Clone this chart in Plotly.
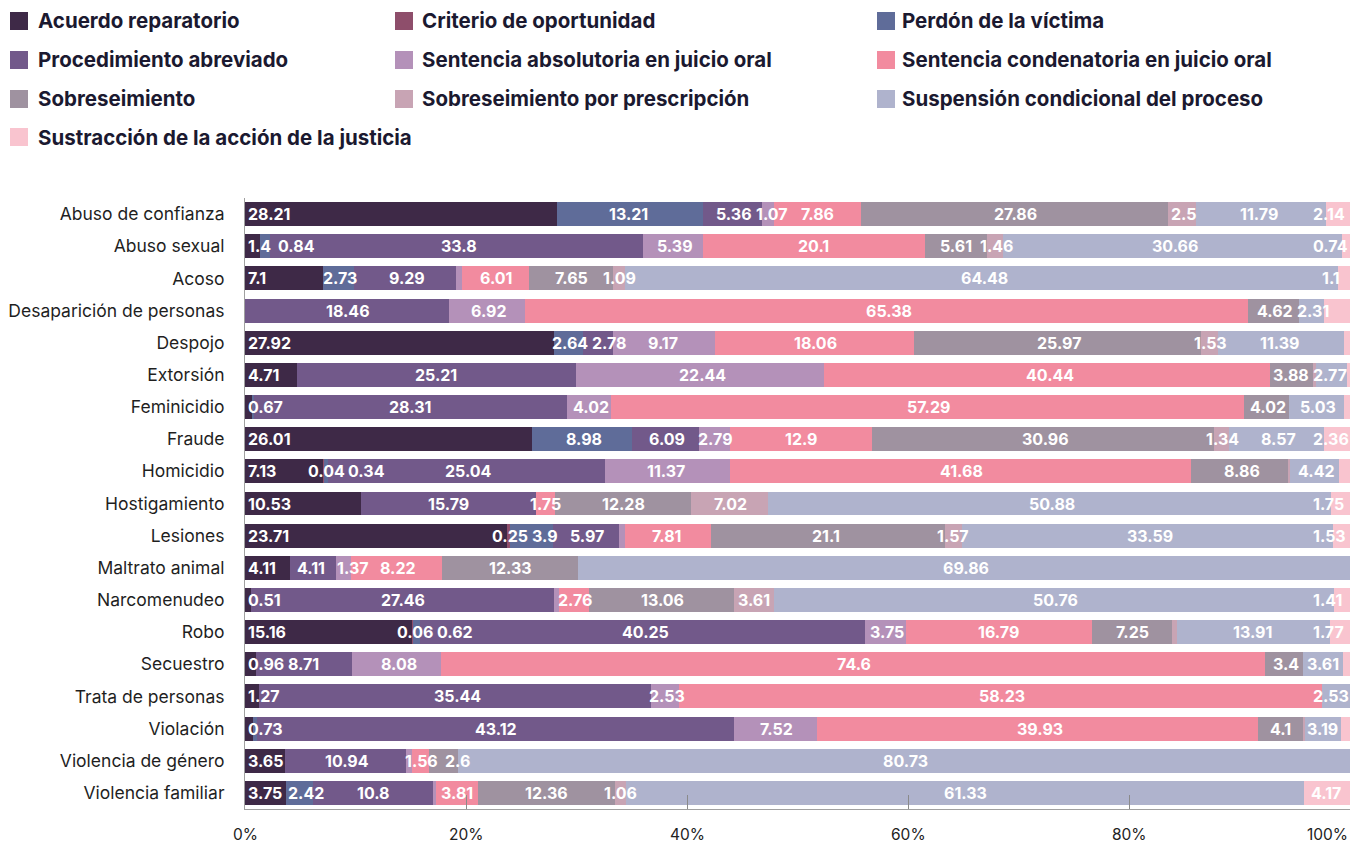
import plotly.graph_objects as go

# Crime types (rows, top to bottom)
crimes = [
    "Abuso de confianza", "Abuso sexual", "Acoso", "Desaparición de personas",
    "Despojo", "Extorsión", "Feminicidio", "Fraude", "Homicidio", "Hostigamiento",
    "Lesiones", "Maltrato animal", "Narcomenudeo", "Robo", "Secuestro",
    "Trata de personas", "Violación", "Violencia de género", "Violencia familiar",
]

# Case outcomes (stack order, left to right)
outcomes = [
    "Acuerdo reparatorio", "Criterio de oportunidad", "Perdón de la víctima",
    "Procedimiento abreviado", "Sentencia absolutoria en juicio oral",
    "Sentencia condenatoria en juicio oral", "Sobreseimiento",
    "Sobreseimiento por prescripción", "Suspensión condicional del proceso",
    "Sustracción de la acción de la justicia",
]

# Share of cases (%) per outcome, one value per crime type
acuerdo_reparatorio = [28.21, 1.4, 7.1, 0, 27.92, 4.71, 0.67, 26.01, 7.13, 10.53,
                       23.71, 4.11, 0.51, 15.16, 0.96, 1.27, 0.73, 3.65, 3.75]
criterio_oportunidad = [0, 0, 0, 0, 0, 0, 0, 0, 0.04, 0,
                        0.25, 0, 0, 0.06, 0, 0, 0, 0, 0]
perdon_victima = [13.21, 0.84, 2.73, 0, 2.64, 0, 0.13, 8.98, 0.34, 0,
                  3.9, 0, 0, 0.62, 0, 0, 0.4, 0, 2.42]
procedimiento_abreviado = [5.36, 33.8, 9.29, 18.46, 2.78, 25.21, 28.31, 6.09, 25.04, 15.79,
                           5.97, 4.11, 27.46, 40.25, 8.71, 35.44, 43.12, 10.94, 10.8]
sentencia_absolutoria = [1.07, 5.39, 0.55, 6.92, 9.17, 22.44, 4.02, 2.79, 11.37, 0,
                         0.57, 1.37, 0.43, 3.75, 8.08, 2.53, 7.52, 0.52, 0.3]
sentencia_condenatoria = [7.86, 20.1, 6.01, 65.38, 18.06, 40.44, 57.29, 12.9, 41.68, 1.75,
                          7.81, 8.22, 2.76, 16.79, 74.6, 58.23, 39.93, 1.56, 3.81]
sobreseimiento = [27.86, 5.61, 7.65, 4.62, 25.97, 3.88, 4.02, 30.96, 8.86, 12.28,
                  21.1, 12.33, 13.06, 7.25, 3.4, 0, 4.1, 2.6, 12.36]
sobreseimiento_prescripcion = [2.5, 1.46, 1.09, 0, 1.53, 0.28, 0, 1.34, 0.1, 7.02,
                               1.57, 0, 3.61, 0.44, 0, 0, 0.15, 0, 1.06]
suspension_condicional = [11.79, 30.66, 64.48, 2.31, 11.39, 2.77, 5.03, 8.57, 4.42, 50.88,
                          33.59, 69.86, 50.76, 13.91, 3.61, 2.53, 3.19, 80.73, 61.33]
sustraccion_justicia = [2.14, 0.74, 1.1, 2.31, 0.54, 0.27, 0.53, 2.36, 1.02, 1.75,
                        1.53, 0, 1.41, 1.77, 0.64, 0, 0.86, 0, 4.17]

series = [
    acuerdo_reparatorio, criterio_oportunidad, perdon_victima, procedimiento_abreviado,
    sentencia_absolutoria, sentencia_condenatoria, sobreseimiento,
    sobreseimiento_prescripcion, suspension_condicional, sustraccion_justicia,
]

# Thin segments printed without a value label
unlabeled = {
    "Acoso": [4],
    "Desaparición de personas": [9],
    "Despojo": [9],
    "Extorsión": [7, 9],
    "Feminicidio": [2, 9],
    "Homicidio": [7, 9],
    "Lesiones": [4],
    "Narcomenudeo": [4],
    "Robo": [7],
    "Secuestro": [9],
    "Violación": [2, 7, 9],
    "Violencia de género": [4],
    "Violencia familiar": [4],
}

x_ticks = [0, 20, 40, 60, 80, 100]
x_tick_text = ["0%", "20%", "40%", "60%", "80%", "100%"]

colors = ["#3e2947", "#8e4e6b", "#5f6c99", "#72598a", "#b491b9",
          "#f28b9f", "#9f92a0", "#c8a4b4", "#afb3cd", "#f9c4cf"]

FONT = "Inter"
W, H = 1351, 844
M_L, M_R, M_T, M_B = 245, 1, 198, 35
PLOT_W = W - M_L - M_R
PLOT_H = H - M_T - M_B
PX_PER_UNIT = PLOT_W / 100.0


def px_to_paper_x(px):
    return (px - M_L) / PLOT_W


def px_to_paper_y(py):
    return (H - M_B - py) / PLOT_H


def fmt(v):
    return f"{v:g}"


def text_width_units(s):
    return sum(4.6 if c == "." else 9.8 for c in s) / PX_PER_UNIT


fig = go.Figure()
for name, vals, col in zip(outcomes, series, colors):
    fig.add_trace(go.Bar(
        y=crimes, x=vals, name=name, orientation="h",
        marker=dict(color=col, line=dict(width=0)),
        showlegend=False, hoverinfo="x+name",
    ))

annotations = []
shapes = []

# Value labels: centred on each segment (first outcome starts at the bar's left end),
# then nudged apart so neighbouring labels never overlap.
GAP = 6 / PX_PER_UNIT
for i, crime in enumerate(crimes):
    items = []
    cum = 0.0
    skip = unlabeled.get(crime, [])
    for j, vals in enumerate(series):
        v = vals[i]
        if v > 0 and j not in skip:
            txt = fmt(v)
            w = text_width_units(txt)
            left = cum + 0.2 if j == 0 else cum + v / 2 - w / 2
            items.append([left, w, txt])
        cum += v
    lo = 0.2
    for it in items:
        it[0] = max(it[0], lo)
        lo = it[0] + it[1] + GAP
    hi = 99.6
    for it in reversed(items):
        if it[0] + it[1] > hi:
            it[0] = hi - it[1]
        hi = it[0] - GAP
    for left, w, txt in items:
        annotations.append(dict(
            x=left, y=crime, xref="x", yref="y", text=txt, showarrow=False,
            xanchor="left", yanchor="middle", borderpad=0,
            font=dict(family=FONT, size=16, color="white", weight=700),
        ))

# X-axis tick labels (the last one tucked inside the right edge)
for v, t in zip(x_ticks, x_tick_text):
    annotations.append(dict(
        x=v, y=px_to_paper_y(834), xref="x", yref="paper", text=t, showarrow=False,
        xanchor="right" if v == 100 else "center", yanchor="middle",
        font=dict(family=FONT, size=15.5, color="#222222"),
    ))

# Legend laid out in three columns
square_x = [10, 395, 877]
label_x = [37, 421, 901]
row_y = [21, 60, 99, 137]
SQ = 18
for k, (name, col) in enumerate(zip(outcomes, colors)):
    c = k % 3
    cy = row_y[k // 3]
    shapes.append(dict(
        type="rect", xref="paper", yref="paper",
        x0=px_to_paper_x(square_x[c]), x1=px_to_paper_x(square_x[c] + SQ),
        y0=px_to_paper_y(cy - SQ / 2), y1=px_to_paper_y(cy + SQ / 2),
        fillcolor=col, line=dict(width=0),
    ))
    annotations.append(dict(
        x=px_to_paper_x(label_x[c]), y=px_to_paper_y(cy), xref="paper", yref="paper",
        text=name, showarrow=False, xanchor="left", yanchor="middle", borderpad=0,
        font=dict(family=FONT, size=20.5, color="#1b1930", weight=700),
    ))

fig.update_layout(
    width=W, height=H,
    margin=dict(l=M_L, r=M_R, t=M_T, b=M_B, pad=0),
    barmode="stack", bargap=0.254,
    plot_bgcolor="white", paper_bgcolor="white",
    font=dict(family=FONT, color="#222222"),
    annotations=annotations, shapes=shapes,
    xaxis=dict(
        range=[0, 100], tickvals=x_ticks, showticklabels=False,
        ticks="inside", ticklen=14, tickcolor="#8a8a8a", tickwidth=1,
        showgrid=False, zeroline=False, showline=True, linecolor="#a0a0a0", linewidth=1,
    ),
    yaxis=dict(
        categoryorder="array", categoryarray=crimes, autorange="reversed",
        showgrid=False, zeroline=False, showline=True, linecolor="#a0a0a0", linewidth=1,
        ticks="", ticklabelstandoff=16,
        tickfont=dict(family=FONT, size=17.5, color="#1f1f1f"),
    ),
)

fig.write_html("out.html")
